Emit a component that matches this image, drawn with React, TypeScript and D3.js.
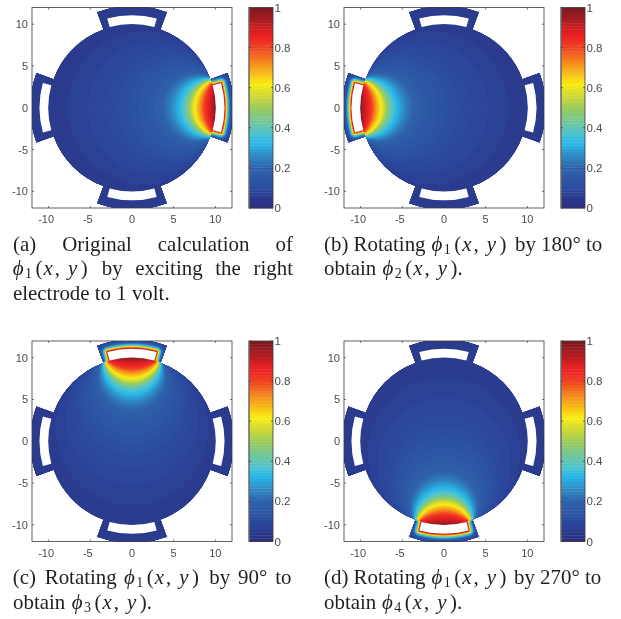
import React, { useMemo } from "react";
import * as d3 from "d3";

const W = 621, H = 619;

// phi along the electrode axis (a)
const axisPos = [-10, -8, -5, -2, 0, 2, 3.5, 4.5, 5.2, 5.8, 6.5, 7.2, 7.8, 8.3, 8.8, 9.3, 10];
const axisPhi = [0.05, 0.06, 0.08, 0.105, 0.13, 0.16, 0.19, 0.24, 0.29, 0.34, 0.42, 0.56, 0.66, 0.74, 0.83, 0.88, 0.97];
// phi against distance from the slot, inside the wedge of the excited electrode
const slotDist = [0, 0.1, 0.2, 0.35, 0.5, 0.7, 1, 2];
const slotPhi = [0.88, 0.78, 0.62, 0.42, 0.3, 0.18, 0.09, 0.05];

// colour bar stops
const cmapAt = [0, 0.1, 0.2, 0.27, 0.32, 0.36, 0.42, 0.5, 0.55, 0.62, 0.72, 0.8, 0.86, 0.95, 1];
const cmapCol = ["#2b2a7c", "#2b4a9f", "#2f62ab", "#2f8fc8", "#29b5e8", "#45c1d8", "#6dc7a4", "#9ccb5c", "#c8d63c", "#f9ed14", "#f6911e", "#ef4423", "#ee2024", "#a01c22", "#7a1a20"];

const tickVals = [-10, -5, 0, 5, 10];
const barTicks = [0, 0.2, 0.4, 0.6, 0.8, 1];
const rotations = [0, 180, 90, 270];
const panelX = [32, 344, 32, 344];
const panelY = [7.5, 7.5, 341, 341];
const DOMAIN = [-12, 12];
const CIRCLE_R = 10, WEDGE_R = 12.2, WEDGE_DEG = 20, SLOT_IN = 10.05, SLOT_OUT = 11.1, SLOT_DEG = 15.5;
const BASE_PHI = 0.05;
const PLOT = 200, BAR_W = 24, BAR_GAP = 17;
const thresholds = d3.range(0, 64).map((i) => i / 64);
const AXIS = "#3a3a3a", TXT = "#4a4a4a", CAP = "#231f20";
const SERIF = "'Liberation Serif', serif";

const colorOf = d3.scaleLinear<string>().domain(cmapAt).range(cmapCol).interpolate(d3.interpolateRgb);
const axisLookup = d3.scaleLinear().domain(axisPos).range(axisPhi).clamp(true);
const slotLookup = d3.scaleLinear().domain(slotDist).range(slotPhi).clamp(true);

const rad = (a: number) => (a * Math.PI) / 180;
const ENDPOINT = [10, 3.4];

function distToSlot(x: number, y: number) {
  const r = Math.hypot(x, y), t = Math.atan2(y, x), half = rad(SLOT_DEG);
  const dr = Math.max(SLOT_IN - r, r - SLOT_OUT, 0);
  const dt = Math.max(Math.abs(t) - half, 0) * r;
  return Math.hypot(dr, dt);
}
function fieldInner(x: number, y: number, a: number, b: number) {
  const den = 2 * (x - a);
  if (Math.abs(den) < 1e-6) return 1;
  const h = (x * x + y * y - a * a - b * b) / den;
  const R = Math.hypot(a - h, b);
  return axisLookup(h - R);
}
function fieldAt(x: number, y: number) {
  const [a, b] = ENDPOINT;
  const r = Math.hypot(x, y);
  const d = distToSlot(x, y);
  if (x > 0 && d === 0) return 0.97;
  const near = x > 0 ? slotLookup(d) : BASE_PHI;
  if (r > CIRCLE_R + 0.02) return near;
  return Math.max(near, fieldInner(x, y, a, b));
}

function wedgePath(deg: number, half: number, rIn: number, rOut: number) {
  return d3.arc()({ innerRadius: rIn, outerRadius: rOut, startAngle: rad(deg - half), endAngle: rad(deg + half) }) as string;
}

function makeField() {
  const step = 0.1;
  const n = Math.round((DOMAIN[1] - DOMAIN[0]) / step) + 1;
  const values = new Float64Array(n * n);
  for (let j = 0; j < n; j++)
    for (let i = 0; i < n; i++) values[j * n + i] = fieldAt(DOMAIN[0] + i * step, DOMAIN[0] + j * step);
  return { n, step, polys: d3.contours().size([n, n]).smooth(true).thresholds(thresholds)(values as unknown as number[]) };
}

function Panel({ idx, field }: { idx: number; field: ReturnType<typeof makeField> }) {
  const x0 = panelX[idx], y0 = panelY[idx], rot = rotations[idx];
  const xs = d3.scaleLinear().domain(DOMAIN).range([x0, x0 + PLOT]);
  const ys = d3.scaleLinear().domain(DOMAIN).range([y0 + PLOT + 0.5, y0]);
  const th = rad(rot), c = Math.cos(th), s = Math.sin(th);
  const path = d3.geoPath(d3.geoTransform({
    point(px: number, py: number) {
      const dx = DOMAIN[0] + (px - 0.5) * field.step, dy = DOMAIN[0] + (py - 0.5) * field.step;
      (this as any).stream.point(xs(dx * c - dy * s), ys(dx * s + dy * c));
    },
  }));
  const k = xs(1) - xs(0), cx = xs(0), cy = ys(0);
  const id = `clip${idx}`;
  const bx = x0 + PLOT + BAR_GAP;
  const bar = d3.scaleLinear().domain([0, 1]).range([y0 + PLOT + 0.5, y0]);
  const cells = d3.range(0, 64);
  const electrodeAngles = [0, 90, 180, 270];
  const circle = `M${-CIRCLE_R},0A${CIRCLE_R},${CIRCLE_R} 0 1,1 ${CIRCLE_R},0A${CIRCLE_R},${CIRCLE_R} 0 1,1 ${-CIRCLE_R},0Z`;
  return (
    <g>
      <defs>
        <clipPath id={id}>
          <path transform={`translate(${cx},${cy}) scale(${k})`} d={circle} />
          {electrodeAngles.map((a) => (
            <path key={a} transform={`translate(${cx},${cy}) scale(${k})`} d={wedgePath(a, WEDGE_DEG, CIRCLE_R - 0.3, WEDGE_R)} />
          ))}
        </clipPath>
        <clipPath id={`${id}b`}><rect x={x0} y={y0} width={PLOT} height={PLOT + 0.5} /></clipPath>
      </defs>
      <g clipPath={`url(#${id}b)`}>
        <g clipPath={`url(#${id})`}>
          <rect x={x0} y={y0} width={PLOT} height={PLOT + 0.5} fill={colorOf(BASE_PHI)} />
          {field.polys.map((p, i) => (
            <path key={i} d={path(p as any) || ""} fill={colorOf(p.value + 0.5 / 64)} />
          ))}
        </g>
        {electrodeAngles.map((a) => (
          <path key={a} transform={`translate(${cx},${cy}) scale(${k})`} d={wedgePath(a, SLOT_DEG, SLOT_IN, SLOT_OUT)} fill="#fff" />
        ))}
      </g>
      <rect x={x0} y={y0} width={PLOT} height={PLOT + 0.5} fill="none" stroke={AXIS} strokeWidth={0.8} />
      {tickVals.map((t) => (
        <g key={t} stroke={AXIS} strokeWidth={0.7}>
          <line x1={xs(t)} x2={xs(t)} y1={y0 + PLOT + 0.5} y2={y0 + PLOT - 1.5} />
          <line x1={xs(t)} x2={xs(t)} y1={y0} y2={y0 + 2} />
          <line x1={x0} x2={x0 + 2} y1={ys(t)} y2={ys(t)} />
          <line x1={x0 + PLOT} x2={x0 + PLOT - 2} y1={ys(t)} y2={ys(t)} />
        </g>
      ))}
      <g fontFamily="'Liberation Sans', sans-serif" fontSize={11} fill={TXT}>
        {tickVals.map((t) => (
          <text key={t} x={xs(t) - (t < 0 ? 2.5 : 0)} y={y0 + PLOT + 15.5} textAnchor="middle">{t}</text>
        ))}
        {tickVals.map((t) => (
          <text key={t} x={x0 - 4} y={ys(t) + 4} textAnchor="end">{t}</text>
        ))}
      </g>
      {cells.map((i) => (
        <rect key={i} x={bx} y={bar((i + 1) / 64)} width={BAR_W} height={(bar(0) - bar(1)) / 64 + 0.4} fill={colorOf((i + 0.5) / 64)} />
      ))}
      <rect x={bx} y={y0} width={BAR_W} height={PLOT + 0.5} fill="none" stroke={AXIS} strokeWidth={0.8} />
      <line x1={bx} x2={bx} y1={y0} y2={y0 + PLOT + 0.5} stroke="#777" strokeWidth={1.2} />
      {barTicks.map((t) => (
        <g key={t}>
          <line x1={bx} x2={bx + 2} y1={bar(t)} y2={bar(t)} stroke={AXIS} strokeWidth={0.7} />
          <line x1={bx + BAR_W} x2={bx + BAR_W - 2} y1={bar(t)} y2={bar(t)} stroke={AXIS} strokeWidth={0.7} />
          <text x={bx + BAR_W + 1.5} y={bar(t) + 4} fontFamily="'Liberation Sans', sans-serif" fontSize={11.5} fill={TXT}>{t}</text>
        </g>
      ))}
    </g>
  );
}

function Phi({ n, x, y, tail }: { n: number; x: number; y: number; tail?: string }) {
  return (
    <text x={x} y={y}>
      <tspan fontStyle="italic">{"\u03D5"}</tspan>
      <tspan fontSize={14} dx={1.5} dy={3}>{n}</tspan>
      <tspan dx={3.5} dy={-3}>{"("}</tspan>
      <tspan dx={1} fontStyle="italic">x</tspan>
      <tspan dx={2}>{","}</tspan>
      <tspan dx={8} fontStyle="italic">y</tspan>
      <tspan dx={3.5}>{")"}</tspan>
      {tail}
    </text>
  );
}

function Captions() {
  return (
    <g fontFamily={SERIF} fontSize={20.9} fill={CAP}>
      <text x={13} y={250.5} wordSpacing={20.8}>(a) Original calculation of</text>
      <Phi n={1} x={12.7} y={275.3} />
      <text x={101.7} y={275.3} wordSpacing={7.5}>by exciting the right</text>
      <text x={13} y={300.3}>electrode to 1 volt.</text>

      <text x={324} y={250.5}>(b) Rotating</text>
      <Phi n={1} x={431.5} y={250.5} />
      <text x={515} y={250.5}>by 180° to</text>
      <text x={324} y={275.3}>obtain</text>
      <Phi n={2} x={382.5} y={275.3} tail="." />

      <text x={12.7} y={584} wordSpacing={3.6}>(c) Rotating</text>
      <Phi n={1} x={124} y={584} />
      <text x={209.3} y={584} wordSpacing={2.7}>by 90° to</text>
      <text x={13} y={608.5}>obtain</text>
      <Phi n={3} x={71.7} y={608.5} tail="." />

      <text x={324} y={584}>(d) Rotating</text>
      <Phi n={1} x={431.5} y={584} />
      <text x={514} y={584}>by 270° to</text>
      <text x={324} y={608.5}>obtain</text>
      <Phi n={4} x={382} y={608.5} tail="." />
    </g>
  );
}

export default function App() {
  const field = useMemo(makeField, []);
  return (
    <svg width={W} height={H} viewBox={`0 0 ${W} ${H}`} style={{ position: "absolute", left: 0, top: 0, background: "#fff", filter: "blur(0.35px)" }}>
      {rotations.map((_, i) => (
        <Panel key={i} idx={i} field={field} />
      ))}
      <Captions />
    </svg>
  );
}
